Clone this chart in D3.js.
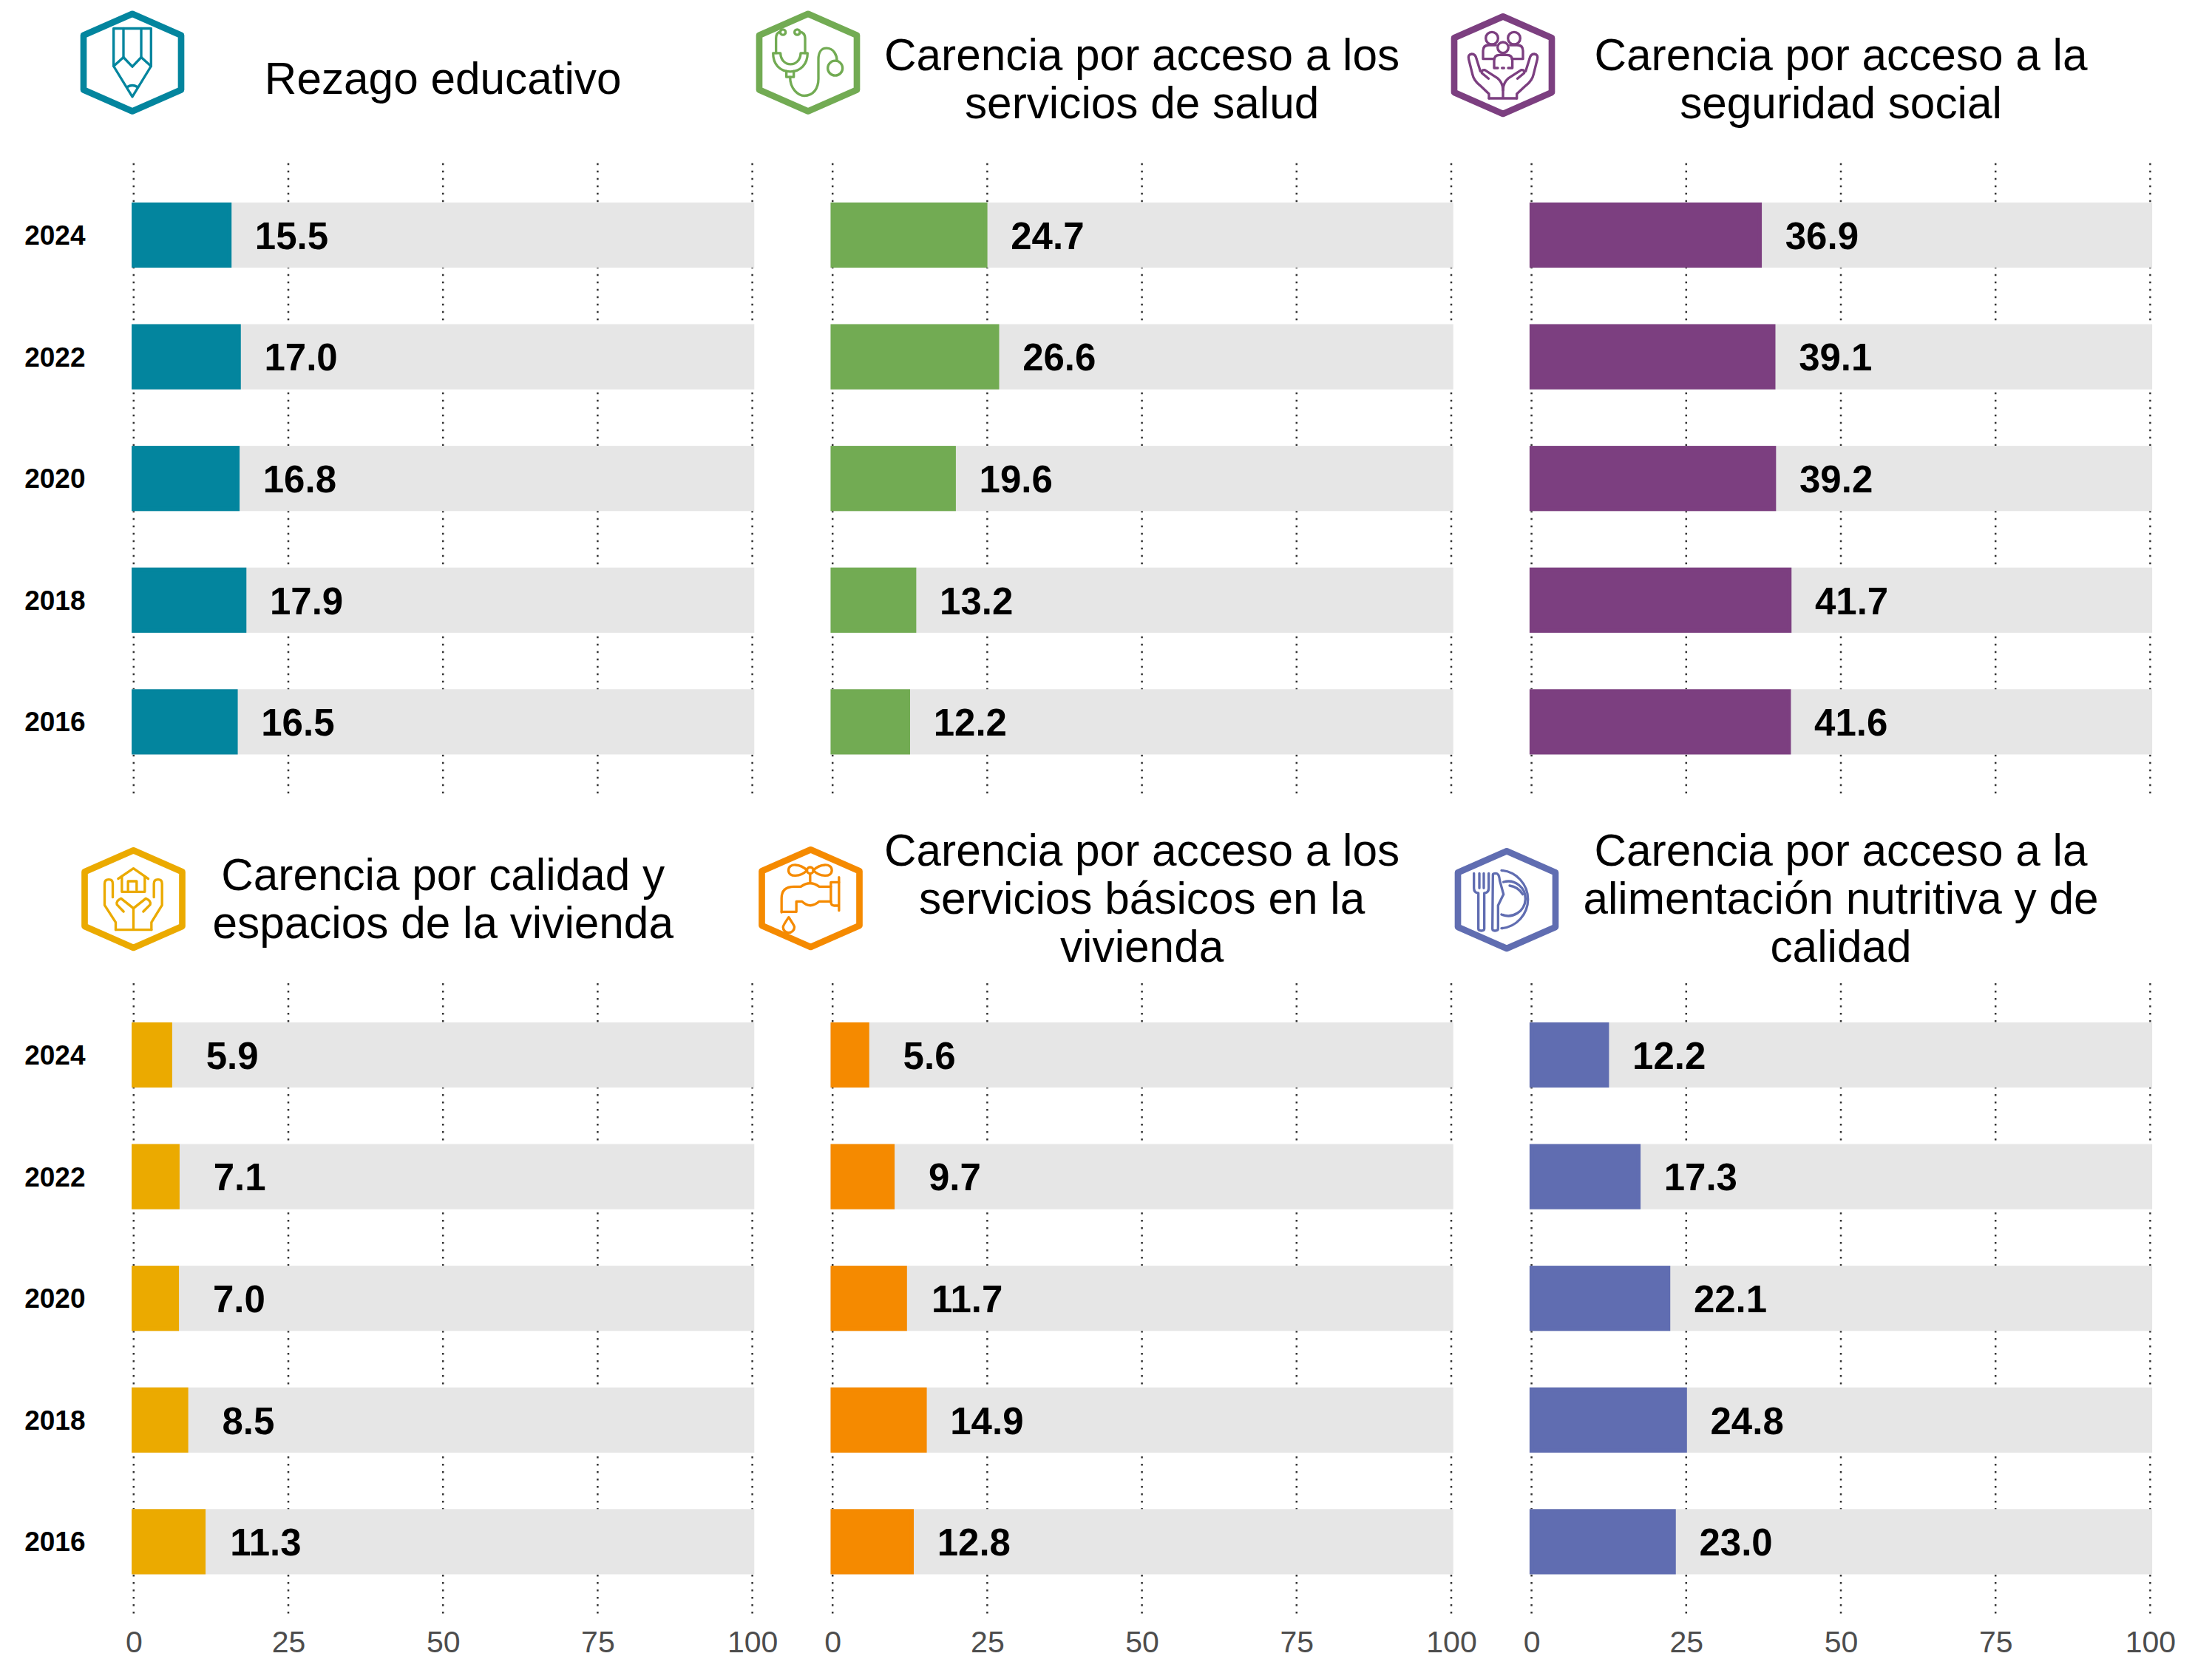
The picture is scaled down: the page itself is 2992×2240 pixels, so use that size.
<!DOCTYPE html>
<html lang="es">

<head>
  <meta charset="UTF-8">
  <title>Carencias sociales</title>
  <style>
    html, body { margin: 0; padding: 0; background: #fff; }
    svg { display: block; }
    text { font-family: "Liberation Sans", Arial, sans-serif; }
  </style>
</head>

<body>

  <svg id="chart" width="2992" height="2240"></svg>

  <script src="https://d3js.org/d3.v7.min.js"></script>

  <script>
    var years = ["2024", "2022", "2020", "2018", "2016"];
    var ticks = [0, 25, 50, 75, 100];

    var rezago = [15.5, 17.0, 16.8, 17.9, 16.5];
    var salud = [24.7, 26.6, 19.6, 13.2, 12.2];
    var seguridad = [36.9, 39.1, 39.2, 41.7, 41.6];
    var vivienda = [5.9, 7.1, 7.0, 8.5, 11.3];
    var servicios = [5.6, 9.7, 11.7, 14.9, 12.8];
    var alimentacion = [12.2, 17.3, 22.1, 24.8, 23.0];

    var titleRezago = ["Rezago educativo"];
    var titleSalud = ["Carencia por acceso a los", "servicios de salud"];
    var titleSeguridad = ["Carencia por acceso a la", "seguridad social"];
    var titleVivienda = ["Carencia por calidad y", "espacios de la vivienda"];
    var titleServicios = ["Carencia por acceso a los", "servicios básicos en la", "vivienda"];
    var titleAlimentacion = ["Carencia por acceso a la", "alimentación nutritiva y de", "calidad"];

    var svg = d3.select("#chart");

    // icon paths are traced at 3x, so each one is scaled back by 1/3
    var iconPencil = {
      c: [268, 253],
      paths: [
        "M192,115 H344 V268 L268,392 L192,268 Z",
        "M232,115 V232 M304,115 V232",
        "M192,268 L232,232 L268,270 L304,232 L344,268",
        "M248,352 Q268,340 288,352"
      ]
    };
    var iconSteth = {
      c: [280, 253],
      paths: [
        "M168,128 Q150,132 150,155 V215 M246,128 Q268,132 268,155 V215",
        "M138,215 H168 C170,275 248,275 250,215 H278 C278,260 250,290 208,290 C165,290 138,260 138,215 Z",
        "M192,288 V312 H222 V288",
        "M207,312 C207,360 240,388 265,388 C300,388 322,360 322,320 V240 C322,210 335,195 355,195 C385,195 397,225 397,245",
        "M167,130 a11,11 0 1,0 22,0 a11,11 0 1,0 -22,0",
        "M225,130 a11,11 0 1,0 22,0 a11,11 0 1,0 -22,0",
        "M360,276 a30,30 0 1,0 60,0 a30,30 0 1,0 -60,0"
      ]
    };
    var iconFamily = {
      c: [279, 263],
      paths: [
        "M209,154 a25,25 0 1,0 50,0 a25,25 0 1,0 -50,0",
        "M299,154 a25,25 0 1,0 50,0 a25,25 0 1,0 -50,0",
        "M257,192 a22,22 0 1,0 44,0 a22,22 0 1,0 -44,0",
        "M243,238 H198 V205 Q198,182 222,182 H250 M315,238 H360 V205 Q360,182 336,182 H308",
        "M258,275 H243 V245 Q243,222 265,222 H295 Q317,222 317,245 V275 H300 M275,275 H283",
        "M222,398 H335 M279,398 V345",
        "M222,398 V380 L185,345 Q160,325 155,300 L140,240 Q135,220 152,218 Q168,218 172,240 L187,288",
        "M220,318 L193,295 Q190,282 205,283 L255,315 Q279,335 279,365",
        "M335,398 V380 L373,345 Q398,325 403,300 L418,240 Q423,220 406,218 Q390,218 386,240 L371,288",
        "M338,318 L365,295 Q368,282 353,283 L303,315 Q279,335 279,365"
      ]
    };
    var iconHouse = {
      c: [272, 257],
      paths: [
        "M210,175 L272,133 L332,175",
        "M225,165 V228 H318 V165",
        "M250,222 V185 H285 V222",
        "M200,382 H345 M272,295 V382",
        "M200,382 V352 L155,282 V195 Q155,178 172,178 Q188,178 188,195 V250",
        "M232,308 L205,280 Q200,265 222,255 L272,295",
        "M345,382 V352 L388,282 V195 Q388,178 372,178 Q355,178 355,195 V250",
        "M312,308 L340,280 Q345,265 322,255 L272,295"
      ]
    };
    var iconFaucet = {
      c: [290, 255],
      paths: [
        "M275,142 a13,13 0 1,0 26,0 a13,13 0 1,0 -26,0",
        "M275,142 C250,115 200,110 200,142 C200,172 250,168 275,142",
        "M301,142 C326,115 376,110 376,142 C376,172 326,168 301,142",
        "M288,155 V190",
        "M172,312 V255 Q172,208 222,208 H250 Q288,180 325,208 H372 V190 H405",
        "M405,170 V305 M405,285 H385 Q372,285 372,268 H325 Q288,300 255,268 H232 V310 H172",
        "M372,208 V268",
        "M201,332 C185,355 178,365 178,372 A23,23 0 0 0 224,372 C224,365 215,355 201,332 Z"
      ]
    };
    var iconPlate = {
      c: [293, 262],
      paths: [
        "M160,155 V215 Q160,235 178,235 V380 Q178,388 190,388 Q202,388 202,380 V235 Q220,235 220,215 V155",
        "M182,155 V215 M200,155 V215",
        "M237,160 Q237,155 250,155 Q262,155 265,185 L280,240 L258,285 V380 Q258,388 245,388 Q235,388 235,380 Z",
        "M272,143 A118,118 0 0 1 272,378",
        "M280,190 A70,70 0 1 1 272,322",
        "M305,205 Q340,210 358,240"
      ]
    };

    var panels = [
      { title: titleRezago, values: rezago, color: "#03859e", icon: iconPencil, at: [179, 84.5], col: 0, row: 0 },
      { title: titleSalud, values: salud, color: "#72ab53", icon: iconSteth, at: [1093, 84.5], col: 1, row: 0 },
      { title: titleSeguridad, values: seguridad, color: "#7c3f80", icon: iconFamily, at: [2033, 88], col: 2, row: 0 },
      { title: titleVivienda, values: vivienda, color: "#ebaa00", icon: iconHouse, at: [180.5, 1216], col: 0, row: 1 },
      { title: titleServicios, values: servicios, color: "#f58a00", icon: iconFaucet, at: [1096.5, 1215], col: 1, row: 1 },
      { title: titleAlimentacion, values: alimentacion, color: "#606db1", icon: iconPlate, at: [2038, 1217], col: 2, row: 1 }
    ];

    var colStart = 180.8, colStep = 945.4, colWidth = 836.8;
    var rowTops = [235.7, 1344.7], rowHeight = 823;
    var gridTop = [220.7, 1330], gridBottom = [1078, 2183];
    var titleMiddle = [107, 1216], lineGap = 65;

    panels.forEach(drawPanel);

    function drawPanel(p) {
      var left = colStart + p.col * colStep;
      var top = rowTops[p.row];

      var x = d3.scaleLinear().domain([0, 100]).range([left, left + colWidth]);
      var y = d3.scaleBand().domain(years).range([top, top + rowHeight])
        .paddingInner(0.497).paddingOuter(0.2485);

      var g = svg.append("g");

      // dotted gridlines go under the bars
      g.selectAll("line.grid").data(ticks).join("line")
        .attr("class", "grid")
        .attr("x1", function(d) { return x(d); })
        .attr("x2", function(d) { return x(d); })
        .attr("y1", gridTop[p.row])
        .attr("y2", gridBottom[p.row])
        .attr("stroke", "#333")
        .attr("stroke-width", 2.5)
        .attr("stroke-dasharray", "2.5 7.5");

      g.selectAll("rect.bg").data(years).join("rect")
        .attr("class", "bg")
        .attr("x", x(0))
        .attr("width", x(100) - x(0))
        .attr("y", function(d) { return y(d); })
        .attr("height", y.bandwidth())
        .attr("fill", "#e6e6e6")
        .attr("stroke", "#e6e6e6")
        .attr("stroke-width", 5.4);

      g.selectAll("rect.bar").data(p.values).join("rect")
        .attr("class", "bar")
        .attr("x", x(0))
        .attr("width", function(d) { return x(d) - x(0); })
        .attr("y", function(d, i) { return y(years[i]); })
        .attr("height", y.bandwidth())
        .attr("fill", p.color)
        .attr("stroke", p.color)
        .attr("stroke-width", 5.4);

      g.selectAll("text.value").data(p.values).join("text")
        .attr("class", "value")
        .attr("x", function(d) { return x(d) + 84; })
        .attr("y", function(d, i) { return y(years[i]) + y.bandwidth() / 2; })
        .attr("dy", "0.37em")
        .attr("text-anchor", "middle")
        .attr("font-size", 51)
        .attr("font-weight", "bold")
        .text(function(d) { return d.toFixed(1); });

      if (p.col == 0) {
        g.selectAll("text.year").data(years).join("text")
          .attr("class", "year")
          .attr("x", 115.5)
          .attr("y", function(d) { return y(d) + y.bandwidth() / 2; })
          .attr("dy", "0.35em")
          .attr("text-anchor", "end")
          .attr("font-size", 37)
          .attr("font-weight", "bold")
          .text(function(d) { return d; });
      }

      if (p.row == 1) {
        var axis = g.append("g")
          .attr("transform", "translate(0," + gridBottom[p.row] + ")")
          .call(d3.axisBottom(x).tickValues(ticks).tickSize(0).tickPadding(23));
        axis.select(".domain").remove();
        axis.selectAll("text")
          .attr("font-size", 41)
          .attr("font-family", "Liberation Sans")
          .attr("fill", "#4d4d4d");
      }

      // title lines are stacked around the middle of the header
      var title = g.append("g");
      title.selectAll("text").data(p.title).join("text")
        .attr("x", x(50))
        .attr("y", function(d, i) {
          return titleMiddle[p.row] + (i - (p.title.length - 1) / 2) * lineGap + 20;
        })
        .attr("text-anchor", "middle")
        .attr("font-size", 60.3)
        .attr("fill", "#000")
        .text(function(d) { return d; });

      drawIcon(p.icon, p.at, p.color);
    }

    function drawIcon(icon, at, color) {
      var s = svg.append("g")
        .attr("transform", "translate(" + at[0] + "," + at[1] + ") scale(0.3333)")
        .attr("fill", "none")
        .attr("stroke", color);

      s.append("path")
        .attr("d", "M0,-197 L198,-110 V111 L0,198 L-198,111 V-110 Z")
        .attr("stroke-width", 26)
        .attr("stroke-linejoin", "round");

      s.append("g")
        .attr("transform", "translate(" + (-icon.c[0]) + "," + (-icon.c[1]) + ")")
        .selectAll("path").data(icon.paths).join("path")
        .attr("d", function(d) { return d; })
        .attr("stroke-width", 10)
        .attr("stroke-linejoin", "round")
        .attr("stroke-linecap", "round");
    }
  </script>

</body>

</html>
